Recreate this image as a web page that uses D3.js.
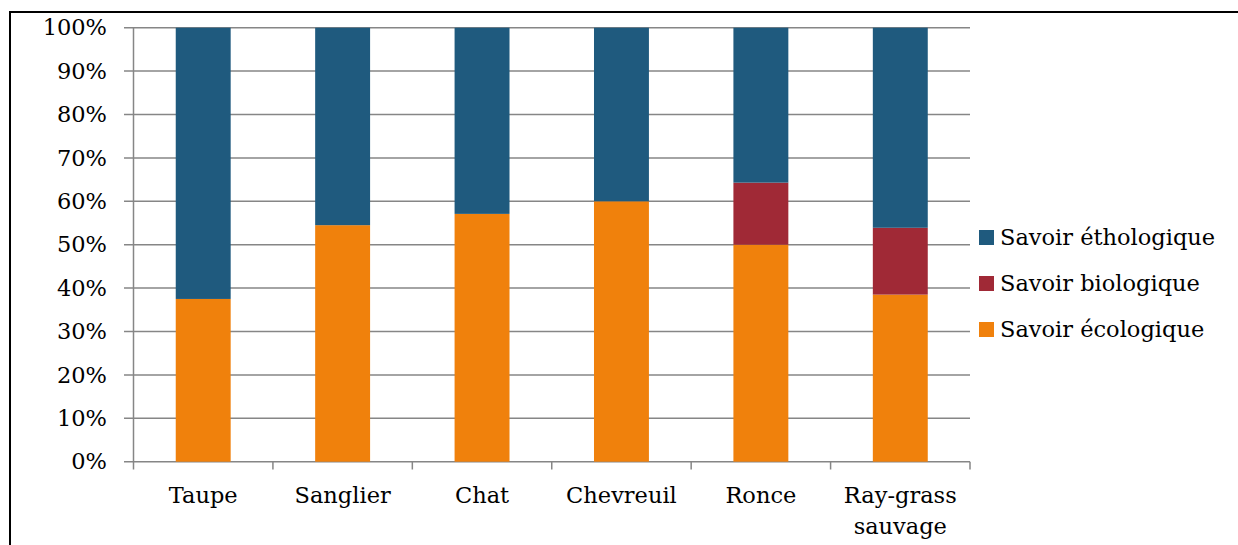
<!DOCTYPE html>
<html><head><meta charset="utf-8">
<script src="https://cdn.jsdelivr.net/npm/d3@7"></script>
<style>body{margin:0;background:#fff}svg{display:block}text{font-family:"DejaVu Serif",serif;fill:#000}</style>
</head><body>
<svg id="c" width="1238" height="545"></svg>
<script>
const categories = [["Taupe"],["Sanglier"],["Chat"],["Chevreuil"],["Ronce"],["Ray-grass","sauvage"]];
const ecologique = [37.5, 54.5, 57.1, 60.0, 50.0, 38.5];
const biologique = [0, 0, 0, 0, 14.3, 15.4];
const ethologique = [62.5, 45.5, 42.9, 40.0, 35.7, 46.1];
const seriesNames = ["Savoir écologique","Savoir biologique","Savoir éthologique"];
const seriesColors = ["#F0810C","#A02936","#1F5A7E"];
const yTicks = [0,10,20,30,40,50,60,70,80,90,100];

const svg = d3.select("#c");
svg.append("rect").attr("x",10).attr("y",12).attr("width",1300).attr("height",600)
  .attr("fill","none").attr("stroke","#000").attr("stroke-width",2);

const x0=133.5, x1=970, yTop=27.7, yBot=461.7;
const keys = categories.map(c=>c.join(" "));
const x = d3.scaleBand().domain(keys).range([x0,x1]).paddingInner(0.606).paddingOuter(0.303);
const y = d3.scaleLinear().domain([0,100]).range([yBot,yTop]);

// grid
svg.append("g").selectAll("line").data(yTicks).join("line")
  .attr("x1",124).attr("x2",x1).attr("y1",d=>y(d)).attr("y2",d=>y(d))
  .attr("stroke","#868686").attr("stroke-width",1.5);
// y axis line
svg.append("line").attr("x1",x0).attr("x2",x0).attr("y1",yTop).attr("y2",yBot)
  .attr("stroke","#868686").attr("stroke-width",1.5);
// x ticks
const bandStep = (x1-x0)/keys.length;
svg.append("g").selectAll("line").data(d3.range(keys.length+1)).join("line")
  .attr("x1",i=>x0+i*bandStep).attr("x2",i=>x0+i*bandStep).attr("y1",yBot).attr("y2",469.5)
  .attr("stroke","#868686").attr("stroke-width",1.5);

// bars
const rows = keys.map((k,i)=>({key:k, eco:ecologique[i], bio:biologique[i], eth:ethologique[i]}));
const stack = d3.stack().keys(["eco","bio","eth"])(rows);
svg.append("g").selectAll("g").data(stack).join("g").attr("fill",(d,i)=>seriesColors[i])
  .selectAll("rect").data(d=>d.filter(v=>v[1]-v[0]>0)).join("rect")
  .attr("x",d=>x(d.data.key)).attr("width",x.bandwidth())
  .attr("y",d=>y(d[1])).attr("height",d=>y(d[0])-y(d[1]));

// y labels
svg.append("g").selectAll("text").data(yTicks).join("text")
  .attr("x",107).attr("y",d=>y(d)).attr("dy","0.34em").attr("text-anchor","end")
  .attr("font-size",22.5).text(d=>d+"%");

// x labels
const xl = svg.append("g").selectAll("text").data(categories).join("text")
  .attr("text-anchor","middle").attr("font-size",22.5)
  .attr("x",(d,i)=>x(keys[i])+x.bandwidth()/2).attr("y",503);
xl.selectAll("tspan").data(d=>d).join("tspan")
  .attr("x",function(){return this.parentNode.getAttribute("x");})
  .attr("dy",(d,i)=>i===0?0:31).text(d=>d);

// legend
const legendOrder = [2,1,0];
const lg = svg.append("g").selectAll("g").data(legendOrder).join("g")
  .attr("transform",(d,i)=>`translate(979,${237+i*46})`);
lg.append("rect").attr("x",0).attr("y",-7).attr("width",15).attr("height",15).attr("fill",d=>seriesColors[d]);
lg.append("text").attr("x",21).attr("y",0).attr("dy","0.34em").attr("font-size",22.5).text(d=>seriesNames[d]);
</script>
</body></html>
